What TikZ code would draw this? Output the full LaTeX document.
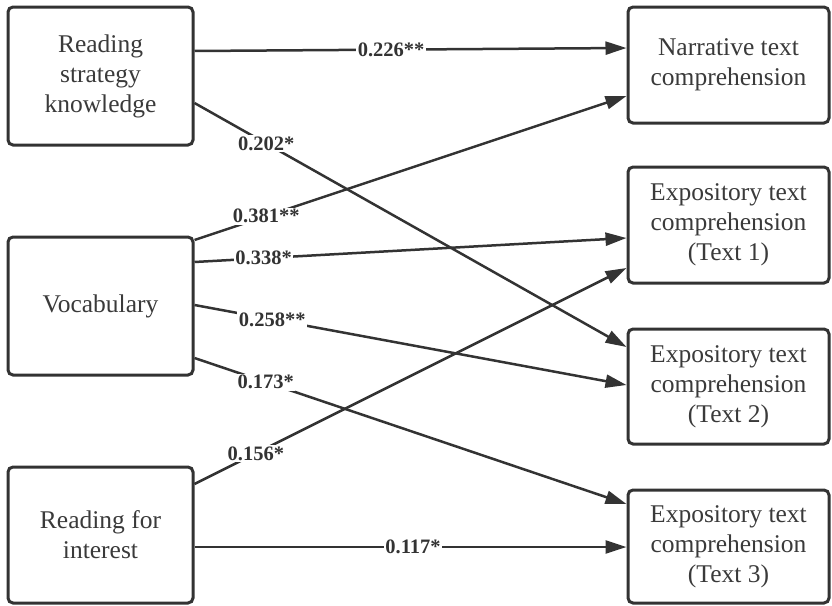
\documentclass[tikz,border=0pt]{standalone}
\usepackage{fontspec}
\setmainfont{Liberation Serif}
\usetikzlibrary{arrows.meta}
\definecolor{ink}{HTML}{333333}
\definecolor{txt}{HTML}{3A3A3A}
\tikzset{
  box/.style={draw=ink, line width=3pt, rounded corners=5pt, fill=white,
    align=center, text=txt, inner sep=0pt,
    font=\fontsize{25.5}{30}\selectfont},
  lbox/.style={box, minimum width=185pt},
  rbox/.style={box, minimum width=201pt},
  link/.style={draw=ink, line width=2.5pt, -{Triangle[length=21pt,width=13pt]}},
  coef/.style={fill=white, inner sep=1.5pt, text=ink,
    font=\fontsize{20.5}{24}\selectfont\bfseries}
}
\begin{document}
\begin{tikzpicture}[x=1pt,y=-1pt]
\useasboundingbox (0,0) rectangle (832,605);
% left boxes
\node[lbox, minimum height=138pt] (rsk) at (100.5,76) {Reading\\strategy\\knowledge};
\node[lbox, minimum height=138pt] (voc) at (100.5,306) {Vocabulary};
\node[lbox, minimum height=136pt] (rfi) at (100.5,535) {Reading for\\interest};
% right boxes
\node[rbox, minimum height=116pt] (narr) at (728.5,65) {Narrative text\\comprehension};
\node[rbox, minimum height=116pt] (exa) at (728.5,225) {Expository text\\comprehension\\(Text 1)};
\node[rbox, minimum height=115pt] (exb) at (728.5,386.5) {Expository text\\comprehension\\(Text 2)};
\node[rbox, minimum height=113pt] (exc) at (728.5,546.5) {Expository text\\comprehension\\(Text 3)};
% connectors
\draw[link] ([yshift=25pt]rsk.east) -- node[coef, pos=0.455] {0.226**} ([yshift=17pt]narr.west);
\draw[link] ([yshift=-27pt]rsk.east) -- node[coef, pos=0.166] {0.202*} ([yshift=39.5pt]exb.west);
\draw[link] ([yshift=66pt]voc.east) -- node[coef, pos=0.166] {0.381**} ([yshift=-31pt]narr.west);
\draw[link] ([yshift=44pt]voc.east) -- node[coef, pos=0.16] {0.338*} ([yshift=-13pt]exa.west);
\draw[link] ([yshift=1pt]voc.east) -- node[coef, pos=0.18] {0.258**} ([yshift=1.5pt]exb.west);
\draw[link] ([yshift=-52pt]voc.east) -- node[coef, pos=0.165] {0.173*} ([yshift=42.5pt]exc.west);
\draw[link] ([yshift=51pt]rfi.east) -- node[coef, pos=0.142] {0.156*} ([yshift=-43pt]exa.west);
\draw[link] ([yshift=-12pt]rfi.east) -- node[coef, pos=0.506] {0.117*} ([yshift=-0.5pt]exc.west);
\end{tikzpicture}
\end{document}
